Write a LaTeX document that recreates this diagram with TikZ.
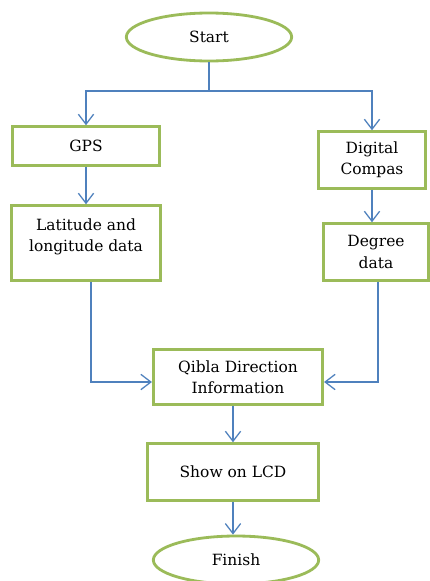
\documentclass[tikz,border=0pt]{standalone}
\usepackage{fontspec}
\setmainfont{DejaVu Serif}
\usepackage{xcolor}
\usepackage{tikz}
\usetikzlibrary{positioning, shapes.geometric, arrows.meta}
\definecolor{boxgreen}{HTML}{9BBB59}
\definecolor{lineblue}{HTML}{4F81BD}
\tikzstyle{startstop} = [ellipse, minimum width=4.96cm, minimum height=1.44cm, text centered, draw=boxgreen, line width=2.4pt]
\tikzstyle{process} = [rectangle, text centered, align=center, draw=boxgreen, line width=2.4pt]
\tikzstyle{arrow} = [draw=lineblue, line width=1.1pt, -{Straight Barb[length=0.3cm, width=0.46cm]}]
\tikzstyle{every node}=[font=\fontsize{13.2}{18}\selectfont]

\begin{document}
\begin{tikzpicture}[node distance=2cm,]
			\useasboundingbox (0,0) rectangle (12.9,-17.43);
			\node (start) [startstop] at (6.27,-1.11) {Start};
			\coordinate [below of=start, yshift=0.38cm] (split);
			\node (gps) [process, below of=start, xshift=-3.69cm, yshift=-1.27cm, minimum width=4.4cm, minimum height=1.16cm] {GPS};
			\node (compas) [process, right of=gps, xshift=6.58cm, yshift=-0.42cm, minimum width=3.22cm, minimum height=1.7cm] {Digital\\Compas};
			\node (latlong) [process, below of=gps, yshift=-0.91cm, minimum width=4.45cm, minimum height=2.24cm, text depth=14pt] {Latitude and\\longitude data};
			\node (degree) [process, below of=compas, xshift=0.12cm, yshift=-0.76cm, minimum width=3.14cm, minimum height=1.7cm] {Degree\\data};
			\node (qibla) [process, below of=latlong, xshift=4.56cm, yshift=-2.02cm, minimum width=5.08cm, minimum height=1.64cm] {Qibla Direction\\Information};
			\node (lcd) [process, below of=qibla, xshift=-0.15cm, yshift=-0.85cm, minimum width=5.12cm, minimum height=1.7cm] {Show on LCD};
			\node (finish) [startstop, below of=lcd, xshift=0.09cm, yshift=-0.64cm] {Finish};
			%连接具体形状
			\draw [draw=lineblue, line width=1.1pt](start.south) -- (split);
			\draw [arrow](split) -| (gps.north);
			\draw [arrow](split) -| (compas.north);
			\draw [arrow](gps) -- (latlong);
			\draw [arrow](compas.south) -- (compas.south |- degree.north);
			\draw [arrow]([xshift=0.15cm]latlong.south) |- ([yshift=-0.15cm]qibla.west);
			\draw [arrow]([xshift=0.06cm]degree.south) |- ([yshift=-0.15cm]qibla.east);
			\draw [arrow](qibla.south -| lcd.north) -- (lcd.north);
			\draw [arrow](lcd.south) -- (lcd.south |- finish.north);
			
		\end{tikzpicture}
\end{document}
